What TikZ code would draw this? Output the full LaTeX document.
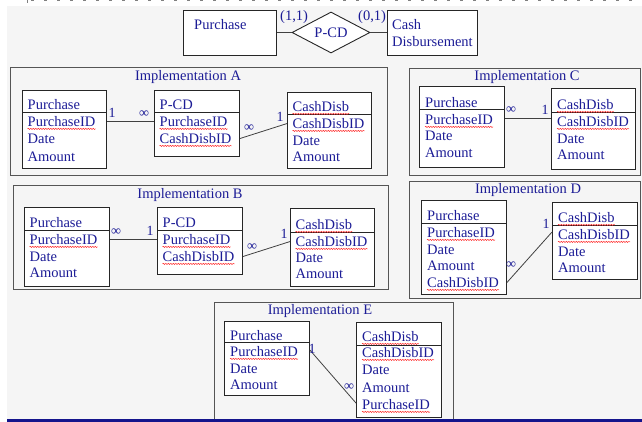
\documentclass[tikz,border=0pt]{standalone}
\usepackage{fontspec}
\setmainfont{Liberation Serif}
\usetikzlibrary{shapes.geometric,decorations.pathmorphing}
\definecolor{txt}{RGB}{28,28,150}
\definecolor{bgc}{RGB}{245,245,245}
\definecolor{framec}{RGB}{85,85,85}
\definecolor{barblue}{RGB}{20,20,140}
\tikzset{
  tbl/.style={draw=black!85, fill=white, line width=0.9pt, inner sep=0pt},
  frm/.style={draw=framec, line width=1.1pt, inner sep=0pt},
  rowt/.style={anchor=base west, inner sep=0pt, text=txt, font={\fontsize{14.5}{17}\selectfont}},
  ttl/.style={anchor=base, inner sep=0pt, text=txt, font={\fontsize{14.5}{17}\selectfont}},
  lbl/.style={anchor=base, inner sep=0pt, text=txt, font={\fontsize{14}{17}\selectfont}},
  conn/.style={draw=black!75, line width=0.8pt},
  hline/.style={draw=black!85, line width=0.9pt},
  squig/.style={draw=red!85, line width=0.45pt, decorate, decoration={snake, amplitude=0.6pt, segment length=2.5pt}},
}
\newcommand\mktbl[6]{%
  \node[tbl, minimum width=#4pt-#2pt, minimum height=#5pt-#3pt, anchor=north west] (#1) at (#2,#3) {};
  \draw[hline] (#1.west |- 0,#6) -- (#1.east |- 0,#6);}
\newcommand\mkfrm[5]{%
  \node[frm, minimum width=#4pt-#2pt, minimum height=#5pt-#3pt, anchor=north west] (#1) at (#2,#3) {};}
\newcommand\sq[1]{\draw[squig] ([yshift=-2.4pt]#1.base west) -- ([yshift=-2.4pt]#1.base east);}
\begin{document}
\begin{tikzpicture}[x=1pt,y=-1pt]
\useasboundingbox (0,0) rectangle (642,422);
\fill[bgc] (7,6) rectangle (642,419);
\draw[gray, line width=1pt, dash pattern=on 3pt off 10pt] (31,0.8) -- (642,0.8);
\draw[gray, line width=0.8pt] (27,0) -- (27,3);

% ---------- top ER diagram ----------
\node[tbl, minimum width=93pt, minimum height=45pt, anchor=north west] (tP) at (183,10) {};
\node[rowt] (tPt) at (194,29.5) {Purchase};
\node[tbl, minimum width=90pt, minimum height=45pt, anchor=north west] (tC) at (387,10) {};
\node[rowt] (tCt1) at (392,29.5) {Cash};
\node[rowt] (tCt2) at (392,46.5) {Disbursement};
\node[diamond, shape aspect=2, draw=black!85, fill=white, line width=0.9pt, minimum width=78pt, minimum height=41pt, inner sep=0pt, text=txt, font={\fontsize{14.5}{17}\selectfont}] (dia) at (331,32.5) {P-CD};
\draw[conn] (tP.east |- dia.west) -- (dia.west);
\draw[conn] (dia.east) -- (tC.west |- dia.east);
\node[rowt] (c11) at (280,21) {(1,1)};
\node[rowt] (c01) at (358,21) {(0,1)};

% ---------- frames ----------
\mkfrm{fA}{10}{67}{387}{175}
\mkfrm{fB}{13}{185}{388}{289}
\mkfrm{fC}{409}{68}{640}{175}
\mkfrm{fD}{409}{181}{640}{298}
\mkfrm{fE}{214}{302}{453}{419}
\node[ttl] (tA) at (188,80.5) {Implementation A};
\node[ttl] (tB) at (190,198.5) {Implementation B};
\node[ttl] (tCc) at (527,80.5) {Implementation C};
\node[ttl] (tD) at (528,193.5) {Implementation D};
\node[ttl] (tE) at (320,314.5) {Implementation E};

% ---------- Implementation A ----------
\mktbl{aP}{22}{90}{106}{168}{112}
\node[rowt] (aP1) at (27.5,109.5) {Purchase};
\node[rowt] (aP2) at (27.5,126.5) {PurchaseID};
\node[rowt] (aP3) at (27.5,143.5) {Date};
\node[rowt] (aP4) at (27.5,161.5) {Amount};
\mktbl{aC}{154}{90}{239}{156}{112}
\node[rowt] (aC1) at (159.5,109.5) {P-CD};
\node[rowt] (aC2) at (159.5,126.5) {PurchaseID};
\node[rowt] (aC3) at (159.5,143.5) {CashDisbID};
\mktbl{aD}{287}{92}{371}{168}{114}
\node[rowt] (aD1) at (292.5,111.5) {CashDisb};
\node[rowt] (aD2) at (292.5,128.5) {CashDisbID};
\node[rowt] (aD3) at (292.5,145.5) {Date};
\node[rowt] (aD4) at (292.5,161.5) {Amount};
\sq{aP2}\sq{aC2}\sq{aC3}\sq{aD1}\sq{aD2}
\draw[conn] (aP.east |- aP2.west) -- (aC.west |- aP2.west);
\draw[conn] (aC.east |- aC3.west) -- (aD.west |- aD2.west);
\node[lbl] (aL1) at (112,117.5) {1};
\node[lbl] (aL2) at (144,117.5) {∞};
\node[lbl] (aL3) at (249,132) {∞};
\node[lbl] (aL4) at (280,122) {1};

% ---------- Implementation B ----------
\mktbl{bP}{24}{207}{109}{286}{230}
\node[rowt] (bP1) at (29.5,227.5) {Purchase};
\node[rowt] (bP2) at (29.5,244.5) {PurchaseID};
\node[rowt] (bP3) at (29.5,261.5) {Date};
\node[rowt] (bP4) at (29.5,277.5) {Amount};
\mktbl{bC}{157}{207}{242}{274}{230}
\node[rowt] (bC1) at (162.5,227.5) {P-CD};
\node[rowt] (bC2) at (162.5,244.5) {PurchaseID};
\node[rowt] (bC3) at (162.5,261.5) {CashDisbID};
\mktbl{bD}{290}{208}{374}{286}{232}
\node[rowt] (bD1) at (295.5,229.5) {CashDisb};
\node[rowt] (bD2) at (295.5,246.5) {CashDisbID};
\node[rowt] (bD3) at (295.5,262.5) {Date};
\node[rowt] (bD4) at (295.5,278.5) {Amount};
\sq{bP2}\sq{bC2}\sq{bC3}\sq{bD1}\sq{bD2}
\draw[conn] (bP.east |- bP2.west) -- (bC.west |- bP2.west);
\draw[conn] (bC.east |- bC3.west) -- (bD.west |- bD2.west);
\node[lbl] (bL1) at (116,235) {∞};
\node[lbl] (bL2) at (150,235) {1};
\node[lbl] (bL3) at (252,250) {∞};
\node[lbl] (bL4) at (284,238) {1};

% ---------- Implementation C ----------
\mktbl{cP}{419}{86}{504}{167}{109}
\node[rowt] (cP1) at (425,107.5) {Purchase};
\node[rowt] (cP2) at (425,124.5) {PurchaseID};
\node[rowt] (cP3) at (425,140.5) {Date};
\node[rowt] (cP4) at (425,157.5) {Amount};
\mktbl{cD}{551}{88}{635}{169}{112}
\node[rowt] (cD1) at (557,109.5) {CashDisb};
\node[rowt] (cD2) at (557,126.5) {CashDisbID};
\node[rowt] (cD3) at (557,143.5) {Date};
\node[rowt] (cD4) at (557,159.5) {Amount};
\sq{cP2}\sq{cD1}\sq{cD2}
\draw[conn] ([yshift=1.5pt]cP2.west -| cP.east) -- ([yshift=1.5pt]cP2.west -| cD.west);
\node[lbl] (cL1) at (511,113.5) {∞};
\node[lbl] (cL2) at (545,115) {1};

% ---------- Implementation D ----------
\mktbl{dP}{421}{200}{506}{294}{223}
\node[rowt] (dP1) at (427,220.5) {Purchase};
\node[rowt] (dP2) at (427,237.5) {PurchaseID};
\node[rowt] (dP3) at (427,254.5) {Date};
\node[rowt] (dP4) at (427,270.5) {Amount};
\node[rowt] (dP5) at (427,287.5) {CashDisbID};
\mktbl{dD}{552}{202}{637}{279}{225}
\node[rowt] (dD1) at (558,222.5) {CashDisb};
\node[rowt] (dD2) at (558,239.5) {CashDisbID};
\node[rowt] (dD3) at (558,256.5) {Date};
\node[rowt] (dD4) at (558,272.5) {Amount};
\sq{dP2}\sq{dP5}\sq{dD1}\sq{dD2}
\draw[conn] (dP.east |- dP5.west) -- ([yshift=2.5pt]dD2.west -| dD.west);
\node[lbl] (dL1) at (511,268) {∞};
\node[lbl] (dL2) at (546,228) {1};

% ---------- Implementation E ----------
\mktbl{eP}{224}{321}{309}{395}{342}
\node[rowt] (eP1) at (230,340.5) {Purchase};
\node[rowt] (eP2) at (230,356.5) {PurchaseID};
\node[rowt] (eP3) at (230,373.5) {Date};
\node[rowt] (eP4) at (230,389.5) {Amount};
\mktbl{eD}{356}{322}{441}{417}{345}
\node[rowt] (eD1) at (362,341.5) {CashDisb};
\node[rowt] (eD2) at (362,357.5) {CashDisbID};
\node[rowt] (eD3) at (362,374.5) {Date};
\node[rowt] (eD4) at (362,392.5) {Amount};
\node[rowt] (eD5) at (362,409.5) {PurchaseID};
\sq{eP2}\sq{eD1}\sq{eD2}\sq{eD5}
\draw[conn] ([yshift=1.5pt]eP2.west -| eP.east) -- ([yshift=1.5pt]eD5.west -| eD.west);
\node[lbl] (eL1) at (312,353) {1};
\node[lbl] (eL2) at (349,390) {∞};

\fill[barblue] (7,419) rectangle (642,421.5);
\end{tikzpicture}
\end{document}
